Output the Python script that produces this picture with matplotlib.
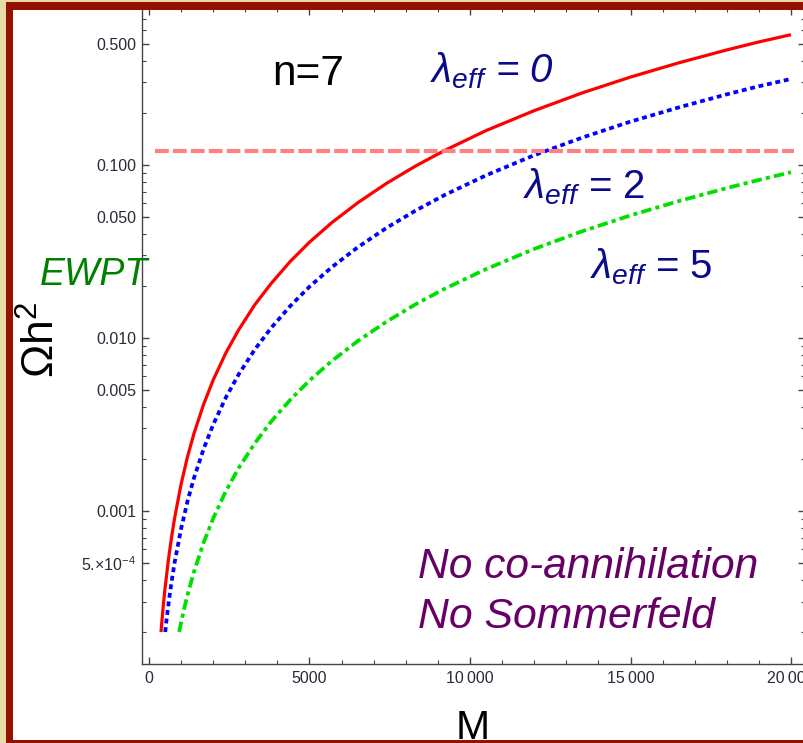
import matplotlib
matplotlib.use('Agg')
import matplotlib.pyplot as plt
from matplotlib.patches import Rectangle
from matplotlib.ticker import FixedLocator

plt.rcParams['font.family'] = ['Liberation Sans', 'DejaVu Sans']
plt.rcParams['mathtext.fontset'] = 'custom'
plt.rcParams['mathtext.rm'] = 'Liberation Sans'
plt.rcParams['mathtext.it'] = 'Liberation Sans:italic'

# curves (M, Omega h^2)
m_l0 = [374, 400, 450, 500, 600, 700, 800, 1000, 1200, 1400, 1700, 2000, 2400,
        2800, 3300, 3800, 4400, 5000, 5700, 6500, 7400, 8300, 9200, 10500,
        12000, 13500, 15000, 16500, 18000, 19000, 20000]
om_l0 = [2.0e-4, 2.29e-4, 2.9e-4, 3.58e-4, 5.15e-4, 7.0e-4, 9.15e-4, 1.43e-3,
         2.06e-3, 2.8e-3, 4.13e-3, 5.72e-3, 8.24e-3, 0.0112, 0.0156, 0.0206,
         0.0277, 0.0358, 0.0465, 0.0604, 0.0783, 0.0985, 0.121, 0.158, 0.206,
         0.261, 0.322, 0.389, 0.462, 0.514, 0.566]

m_l2 = [505, 550, 600, 700, 800, 1000, 1200, 1400, 1700, 2000, 2400, 2800, 3300,
        3800, 4400, 5000, 5700, 6500, 7400, 8300, 9200, 10500, 12000, 13500,
        15000, 16500, 18000, 19000, 20000]
om_l2 = [2.0e-4, 2.39e-4, 2.84e-4, 3.87e-4, 5.06e-4, 7.9e-4, 1.14e-3, 1.55e-3,
         2.28e-3, 3.16e-3, 4.55e-3, 6.19e-3, 8.6e-3, 0.0114, 0.0153, 0.0198,
         0.0257, 0.0334, 0.0433, 0.0544, 0.0669, 0.0871, 0.1138, 0.144, 0.178,
         0.215, 0.256, 0.285, 0.314]

m_l5 = [940, 1000, 1100, 1200, 1400, 1700, 2000, 2400, 2800, 3300, 3800, 4400,
        5000, 5700, 6500, 7400, 8300, 9200, 10500, 12000, 13500, 15000, 16500,
        18000, 19000, 20000]
om_l5 = [2.0e-4, 2.27e-4, 2.75e-4, 3.27e-4, 4.45e-4, 6.56e-4, 9.08e-4, 1.31e-3,
         1.78e-3, 2.47e-3, 3.28e-3, 4.39e-3, 5.68e-3, 7.38e-3, 9.59e-3, 0.01243,
         0.01564, 0.01921, 0.0250, 0.0327, 0.0414, 0.0511, 0.0618, 0.0735,
         0.0819, 0.0908]

ewpt_value = 0.12
ewpt_range = [200, 20100]

ytick_vals = [5e-4, 1e-3, 5e-3, 1e-2, 5e-2, 0.1, 0.5]
ytick_labels = [r'5.$\times$10$^{-4}$', '0.001', '0.005', '0.010', '0.050', '0.100', '0.500']
xtick_vals = [0, 5000, 10000, 15000, 20000]
xtick_labels = ['0', '5000', '10\u2009000', '15\u2009000', '20\u2009000']

W, H = 804, 743


def px(x, y):
    # pixel position (from top-left) -> figure fraction
    return x / W, 1 - y / H


fig = plt.figure(figsize=(W / 100, H / 100), dpi=100)
fig.patch.set_facecolor('white')
ax = fig.add_axes([142 / W, 1 - 664 / H, (805 - 142) / W, (664 - 8) / H])

ax.plot(m_l0, om_l0, color='#ff0000', lw=2.3, solid_capstyle='butt',
        solid_joinstyle='round')
ax.plot(m_l2, om_l2, color='#0000ff', lw=2.7, linestyle=(0, (1.3, 1.0)),
        dash_capstyle='butt')
ax.plot(m_l5, om_l5, color='#00e000', lw=2.7, linestyle=(0, (2.8, 1.1, 1.1, 1.1)),
        dash_capstyle='butt')
ax.hlines(ewpt_value, ewpt_range[0], ewpt_range[1], color='#ff8080', lw=3,
          linestyle=(0, (3.3, 1.0)))

ax.set_yscale('log')
ax.set_xlim(-218, 20436)
ax.set_ylim(10 ** -3.884, 10 ** -0.093)

ax.yaxis.set_major_locator(FixedLocator(ytick_vals))
minor_y = [k * 10.0 ** e for e in range(-4, 0) for k in range(1, 10)]
minor_y = [v for v in minor_y if v not in ytick_vals]
ax.yaxis.set_minor_locator(FixedLocator(minor_y))
ax.set_yticklabels(ytick_labels)
ax.xaxis.set_major_locator(FixedLocator(xtick_vals))
ax.xaxis.set_minor_locator(FixedLocator([v for v in range(0, 21000, 1000) if v % 5000]))
ax.set_xticklabels(xtick_labels)

ax.tick_params(which='both', direction='in', top=True, right=True,
               color='#444444', labelcolor='#2a2a38', labelsize=11.5)
ax.tick_params(which='major', length=5, width=1)
ax.tick_params(which='minor', length=3, width=0.8)
ax.tick_params(axis='y', pad=4)
ax.tick_params(axis='x', pad=5)
for s in ax.spines.values():
    s.set_color('#444444')
    s.set_linewidth(1)

# annotations
fig.text(*px(272, 85), 'n=7', fontsize=30.5, color='black', va='baseline')
lam_col = '#0a0a8c'
fig.text(*px(430, 82), r'$\lambda_{eff}$ = 0', fontsize=29, color=lam_col,
         style='italic', va='baseline')
fig.text(*px(523, 198), r'$\lambda_{eff}$ = 2', fontsize=29, color=lam_col,
         va='baseline')
fig.text(*px(590, 278), r'$\lambda_{eff}$ = 5', fontsize=29, color=lam_col,
         va='baseline')
fig.text(*px(40, 285), 'EWPT', fontsize=27, color='#008000', style='italic',
         va='baseline')
fig.text(*px(418, 578), 'No co-annihilation', fontsize=30.6, color='#660066',
         style='italic', va='baseline')
fig.text(*px(418, 628), 'No Sommerfeld', fontsize=30.8, color='#660066',
         style='italic', va='baseline')
fig.text(*px(42, 340), r'$\Omega$h$^2$', fontsize=32, rotation=90,
         ha='center', va='center')
fig.text(*px(473, 739), 'M', fontsize=29.5, ha='center', va='baseline')

# slide frame
beige = '#e8dca6'
dred = '#941100'
frame = [
    (0, 0, 6, H, beige),
    (0, 0, W, 2, beige),
    (6, 2, 7, H, dred),
    (6, 2, W, 8, dred),
    (6, 740, W, 3, dred),
]
for x, y, w, h, c in frame:
    fig.add_artist(Rectangle((x / W, 1 - (y + h) / H), w / W, h / H,
                             transform=fig.transFigure, facecolor=c,
                             edgecolor='none', zorder=10))

fig.savefig('out.png', dpi=100)
